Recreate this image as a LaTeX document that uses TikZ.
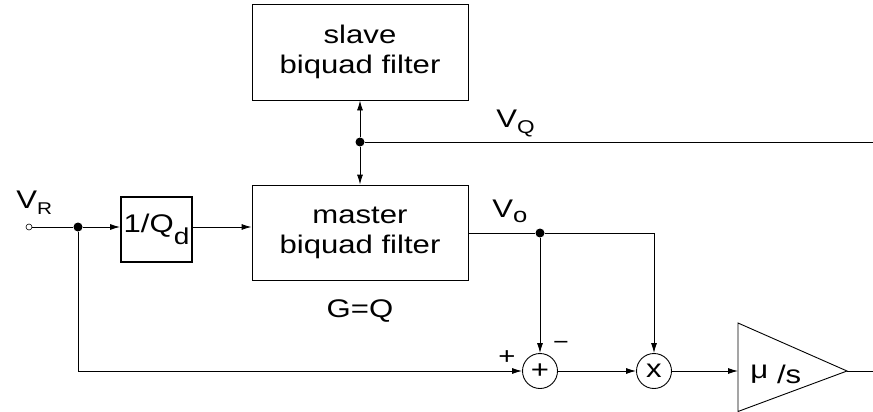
\documentclass[tikz,border=0pt]{standalone}
\usepackage{fontspec}
\setmainfont{Liberation Sans}[FakeStretch=1.22]
\usetikzlibrary{arrows.meta,calc}

\newcommand{\lowsub}[3]{\raisebox{-#1pt}{\fontsize{#2}{#2}\selectfont #3}}

\begin{document}
\begin{tikzpicture}[x=1pt,y=-1pt,
  font=\fontsize{25.5}{30}\selectfont,
  line width=0.9pt,
  >={Latex[length=10pt,width=6pt]},
  block/.style={draw, minimum width=216pt, minimum height=96pt, align=center, inner sep=0pt},
  gainbox/.style={draw, line width=1.8pt, minimum width=71pt, minimum height=65pt, inner sep=0pt},
  junc/.style={circle, fill, inner sep=0pt, minimum size=9pt},
  port/.style={circle, draw, inner sep=0pt, minimum size=6pt, line width=0.6pt},
  summer/.style={circle, draw, inner sep=0pt, minimum size=35pt},
  lbl/.style={anchor=base west, inner sep=0pt}]
  \useasboundingbox (0,0) rectangle (873,412);

  % blocks
  \node[block] (slave) at (360,52) {slave\\biquad filter};
  \node[block, minimum height=95pt] (master) at (360,232.5) {master\\biquad filter};
  \node[gainbox] (qd) at (156.5,229.5) {1/Q\lowsub{12}{23}{d}};
  \node[summer] (sum) at (540,371) {+};
  \node[summer] (mul) at (654,371) {x};

  % amplifier
  \coordinate (amptop) at (738,323);
  \coordinate (amptip) at (847,371);
  \coordinate (ampbot) at (738,411.5);
  \coordinate (ampin) at (738,371);
  \coordinate (out) at (873,371);
  \draw (amptop) -- (amptip) -- (ampbot) -- cycle;
  \node[lbl] (gain) at (750,383) {\raisebox{5pt}{μ} /s};

  % junctions
  \node[port] (vin) at (29,227) {};
  \node[junc] (j1) at (78,227) {};
  \node[junc] (jq) at (360,142) {};
  \node[junc] (jo) at (540,233) {};
  \coordinate (qout) at (873,142);

  % connections
  \draw (vin) -- (j1);
  \draw[->] (j1) -- (qd.west |- j1);
  \draw[->] (qd.east |- j1) -- (master.west |- j1);
  \draw[->] (j1) -- (j1 |- sum) -- (sum.west);
  \draw[->] (jq) -- (slave.south);
  \draw[->] (jq) -- (master.north);
  \draw (jq) -- (qout);
  \draw (master.east |- jo) -- (jo) -- (jo -| mul) coordinate (mc);
  \draw[->] (mc) -- (mul.north);
  \draw[->] (jo) -- (sum.north);
  \draw[->] (sum.east) -- (mul.west);
  \draw[->] (mul.east) -- (ampin);
  \draw (amptip) -- (out);

  % labels
  \node[lbl] (vr) at (16,208) {V\lowsub{6}{17}{R}};
  \node[lbl] (vq) at (496,127) {V\lowsub{6}{18.5}{Q}};
  \node[lbl] (vo) at (492,217) {V\lowsub{5}{21}{o}};
  \node[anchor=base] (gq) at (360,317) {G=Q};
  \node[font=\fontsize{24}{24}\selectfont] (plus) at (507,358) {+};
  \node[font=\fontsize{22}{22}\selectfont] (minus) at (561,345) {−};
\end{tikzpicture}
\end{document}
